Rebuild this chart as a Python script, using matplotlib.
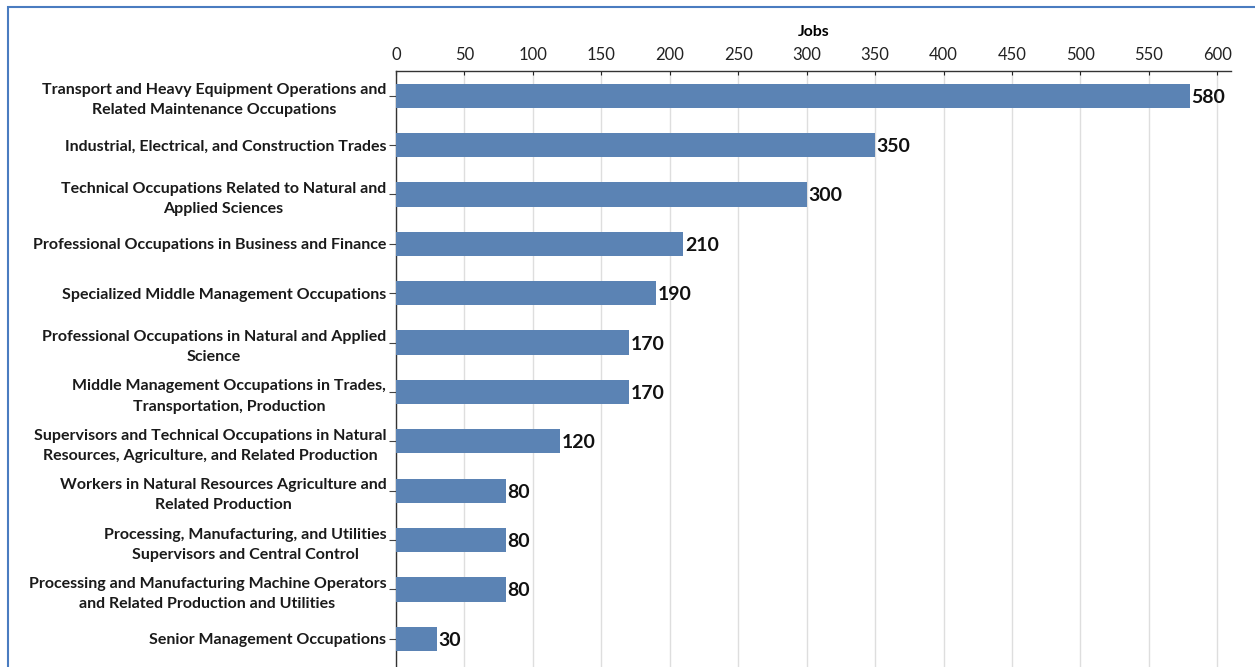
import matplotlib.pyplot as plt
from matplotlib.patches import Rectangle

plt.rcParams['font.family'] = ['Lato', 'DejaVu Sans']

occupations = [
    'Transport and Heavy Equipment Operations and\nRelated Maintenance Occupations',
    'Industrial, Electrical, and Construction Trades',
    'Technical Occupations Related to Natural and\nApplied Sciences',
    'Professional Occupations in Business and Finance',
    'Specialized Middle Management Occupations',
    'Professional Occupations in Natural and Applied\nScience',
    'Middle Management Occupations in Trades,\nTransportation, Production',
    'Supervisors and Technical Occupations in Natural\nResources, Agriculture, and Related Production',
    'Workers in Natural Resources Agriculture and\nRelated Production',
    'Processing, Manufacturing, and Utilities\nSupervisors and Central Control',
    'Processing and Manufacturing Machine Operators\nand Related Production and Utilities',
    'Senior Management Occupations',
]
jobs = [580, 350, 300, 210, 190, 170, 170, 120, 80, 80, 80, 30]
x_ticks = list(range(0, 601, 50))

W, H = 1255, 667
fig = plt.figure(figsize=(W / 100, H / 100), dpi=100)
ax = fig.add_axes([396 / W, 0, (1231 - 396) / W, (H - 71) / H])

bar_color = '#5b83b4'
pos = list(range(len(jobs)))
ax.barh(pos, jobs, height=0.49, color=bar_color, zorder=3)
for p, v in zip(pos, jobs):
    ax.text(v + 1.2, p + 0.03, str(v), va='center', ha='left', fontsize=14,
            fontweight='bold', color='#111111', zorder=4)

ax.set_ylim(11.57, -0.5)
ax.set_xlim(0, 610)
ax.set_yticks(pos)
ax.set_yticklabels(occupations, fontsize=11.5, fontweight='bold', color='#1a1a1a',
                   linespacing=1.55)
for t in ax.get_yticklabels():
    t.set_horizontalalignment('right')
    t.set_multialignment('center')

ax.xaxis.tick_top()
ax.xaxis.set_label_position('top')
ax.set_xticks(x_ticks)
ax.tick_params(axis='x', direction='in', length=3, labelsize=12, pad=6, colors='#222222')
ax.tick_params(axis='y', length=5, pad=2, color='#444444')
ax.set_xlabel('Jobs', fontsize=11.4, fontweight='bold', labelpad=8)
ax.grid(axis='x', color='#dedede', linewidth=1, zorder=0)

for s in ['right', 'bottom']:
    ax.spines[s].set_visible(False)
for s in ['left', 'top']:
    ax.spines[s].set_color('#333333')
    ax.spines[s].set_linewidth(1)

# blue frame around the chart area
fig.patches.append(Rectangle((8 / W, -0.1), 1.2, 1.1 - 7 / H, transform=fig.transFigure,
                             fill=False, edgecolor='#4a7cc0', linewidth=1.5))

plt.savefig('out.png', dpi=100)
